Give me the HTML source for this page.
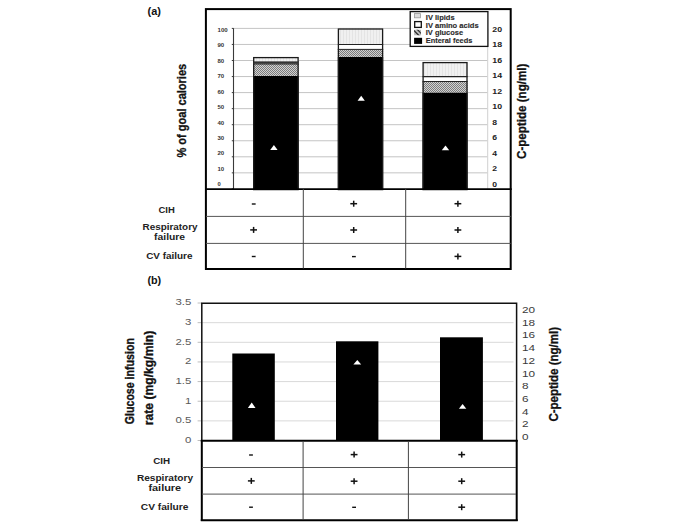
<!DOCTYPE html>
<html><head><meta charset="utf-8"><style>
html,body{margin:0;padding:0;background:#fff;}
body{width:685px;height:524px;overflow:hidden;}
svg{display:block;font-family:"Liberation Sans", sans-serif;}
</style></head><body>
<svg width="685" height="524" viewBox="0 0 685 524">
<defs>
<pattern id="chk" width="2" height="2" patternUnits="userSpaceOnUse"><rect width="2" height="2" fill="#d2d2d2"/><rect width="1" height="1" fill="#7c7c7c"/><rect x="1" y="1" width="1" height="1" fill="#7c7c7c"/></pattern>
<pattern id="lip" width="3" height="3" patternUnits="userSpaceOnUse"><rect width="3" height="3" fill="#f0f0f0"/><rect x="1" width="1" height="3" fill="#e4e4e4"/></pattern>
<clipPath id="swc"><rect x="414.1" y="29.8" width="6.9" height="5.5"/></clipPath>
<pattern id="diag" width="3" height="3" patternUnits="userSpaceOnUse" patternTransform="rotate(-45)"><rect width="3" height="3" fill="#fff"/><rect width="1.5" height="3" fill="#222"/></pattern>
</defs>
<rect width="685" height="524" fill="#fff"/>
<text x="147.60" y="15.20" font-size="10.6" font-weight="bold" fill="#111" text-anchor="start" textLength="13.40" lengthAdjust="spacingAndGlyphs">(a)</text>
<line x1="233.50" y1="172.85" x2="487.50" y2="172.85" stroke="#c4c4c4" stroke-width="1"/>
<line x1="233.50" y1="156.80" x2="487.50" y2="156.80" stroke="#c4c4c4" stroke-width="1"/>
<line x1="233.50" y1="140.75" x2="487.50" y2="140.75" stroke="#c4c4c4" stroke-width="1"/>
<line x1="233.50" y1="124.70" x2="487.50" y2="124.70" stroke="#c4c4c4" stroke-width="1"/>
<line x1="233.50" y1="108.65" x2="487.50" y2="108.65" stroke="#c4c4c4" stroke-width="1"/>
<line x1="233.50" y1="92.60" x2="487.50" y2="92.60" stroke="#c4c4c4" stroke-width="1"/>
<line x1="233.50" y1="76.55" x2="487.50" y2="76.55" stroke="#c4c4c4" stroke-width="1"/>
<line x1="233.50" y1="60.50" x2="487.50" y2="60.50" stroke="#c4c4c4" stroke-width="1"/>
<line x1="233.50" y1="44.45" x2="487.50" y2="44.45" stroke="#c4c4c4" stroke-width="1"/>
<line x1="233.50" y1="28.40" x2="487.50" y2="28.40" stroke="#c4c4c4" stroke-width="1"/>
<line x1="487.70" y1="28.40" x2="487.70" y2="189.00" stroke="#d0d0d0" stroke-width="1"/>
<line x1="233.50" y1="28.20" x2="233.50" y2="189.00" stroke="#3a3a3a" stroke-width="1.1"/>
<line x1="231.80" y1="188.90" x2="233.50" y2="188.90" stroke="#3a3a3a" stroke-width="1"/>
<line x1="231.80" y1="172.85" x2="233.50" y2="172.85" stroke="#3a3a3a" stroke-width="1"/>
<line x1="231.80" y1="156.80" x2="233.50" y2="156.80" stroke="#3a3a3a" stroke-width="1"/>
<line x1="231.80" y1="140.75" x2="233.50" y2="140.75" stroke="#3a3a3a" stroke-width="1"/>
<line x1="231.80" y1="124.70" x2="233.50" y2="124.70" stroke="#3a3a3a" stroke-width="1"/>
<line x1="231.80" y1="108.65" x2="233.50" y2="108.65" stroke="#3a3a3a" stroke-width="1"/>
<line x1="231.80" y1="92.60" x2="233.50" y2="92.60" stroke="#3a3a3a" stroke-width="1"/>
<line x1="231.80" y1="76.55" x2="233.50" y2="76.55" stroke="#3a3a3a" stroke-width="1"/>
<line x1="231.80" y1="60.50" x2="233.50" y2="60.50" stroke="#3a3a3a" stroke-width="1"/>
<line x1="231.80" y1="44.45" x2="233.50" y2="44.45" stroke="#3a3a3a" stroke-width="1"/>
<line x1="231.80" y1="28.40" x2="233.50" y2="28.40" stroke="#3a3a3a" stroke-width="1"/>
<rect x="253.10" y="75.90" width="45.60" height="113.10" fill="#000" stroke="none" stroke-width="1"/>
<rect x="253.10" y="64.00" width="45.60" height="11.90" fill="url(#chk)" stroke="none" stroke-width="1"/>
<rect x="253.10" y="62.00" width="45.60" height="2.00" fill="#fff" stroke="none" stroke-width="1"/>
<rect x="253.10" y="57.00" width="45.60" height="5.00" fill="url(#lip)" stroke="none" stroke-width="1"/>
<rect x="253.70" y="57.60" width="44.40" height="132.00" fill="none" stroke="#1a1a1a" stroke-width="1.3"/>
<line x1="253.10" y1="62.00" x2="298.70" y2="62.00" stroke="#222" stroke-width="1.2"/>
<line x1="253.10" y1="64.00" x2="298.70" y2="64.00" stroke="#222" stroke-width="1.0"/>
<rect x="253.60" y="61.80" width="44.60" height="2.00" fill="#333" stroke="none" stroke-width="1"/>
<rect x="337.80" y="56.80" width="45.40" height="132.20" fill="#000" stroke="none" stroke-width="1"/>
<rect x="337.80" y="49.40" width="45.40" height="7.40" fill="url(#chk)" stroke="none" stroke-width="1"/>
<rect x="337.80" y="44.50" width="45.40" height="4.90" fill="#fff" stroke="none" stroke-width="1"/>
<rect x="337.80" y="28.40" width="45.40" height="16.10" fill="url(#lip)" stroke="none" stroke-width="1"/>
<rect x="338.40" y="29.00" width="44.20" height="160.60" fill="none" stroke="#1a1a1a" stroke-width="1.3"/>
<line x1="337.80" y1="44.50" x2="383.20" y2="44.50" stroke="#222" stroke-width="1.2"/>
<line x1="337.80" y1="49.40" x2="383.20" y2="49.40" stroke="#222" stroke-width="1.0"/>
<rect x="422.50" y="92.50" width="45.10" height="96.50" fill="#000" stroke="none" stroke-width="1"/>
<rect x="422.50" y="81.50" width="45.10" height="11.00" fill="url(#chk)" stroke="none" stroke-width="1"/>
<rect x="422.50" y="76.70" width="45.10" height="4.80" fill="#fff" stroke="none" stroke-width="1"/>
<rect x="422.50" y="62.00" width="45.10" height="14.70" fill="url(#lip)" stroke="none" stroke-width="1"/>
<rect x="423.10" y="62.60" width="43.90" height="127.00" fill="none" stroke="#1a1a1a" stroke-width="1.3"/>
<line x1="422.50" y1="76.70" x2="467.60" y2="76.70" stroke="#222" stroke-width="1.2"/>
<line x1="422.50" y1="81.50" x2="467.60" y2="81.50" stroke="#222" stroke-width="1.0"/>
<polygon points="273.90,145.00 277.60,150.10 270.20,150.10" fill="#fff"/>
<polygon points="361.20,95.70 364.80,100.70 357.60,100.70" fill="#fff"/>
<polygon points="445.50,145.40 449.20,150.20 441.80,150.20" fill="#fff"/>
<text x="217.50" y="31.85" font-size="5.1" font-weight="bold" fill="#333" text-anchor="start" textLength="10.15" lengthAdjust="spacingAndGlyphs">100</text>
<text x="217.50" y="47.30" font-size="5.1" font-weight="bold" fill="#333" text-anchor="start" textLength="6.70" lengthAdjust="spacingAndGlyphs">90</text>
<text x="217.50" y="62.75" font-size="5.1" font-weight="bold" fill="#333" text-anchor="start" textLength="6.70" lengthAdjust="spacingAndGlyphs">80</text>
<text x="217.50" y="78.20" font-size="5.1" font-weight="bold" fill="#333" text-anchor="start" textLength="6.70" lengthAdjust="spacingAndGlyphs">70</text>
<text x="217.50" y="93.65" font-size="5.1" font-weight="bold" fill="#333" text-anchor="start" textLength="6.70" lengthAdjust="spacingAndGlyphs">60</text>
<text x="217.50" y="109.10" font-size="5.1" font-weight="bold" fill="#333" text-anchor="start" textLength="6.70" lengthAdjust="spacingAndGlyphs">50</text>
<text x="217.50" y="124.55" font-size="5.1" font-weight="bold" fill="#333" text-anchor="start" textLength="6.70" lengthAdjust="spacingAndGlyphs">40</text>
<text x="217.50" y="140.00" font-size="5.1" font-weight="bold" fill="#333" text-anchor="start" textLength="6.70" lengthAdjust="spacingAndGlyphs">30</text>
<text x="217.50" y="155.45" font-size="5.1" font-weight="bold" fill="#333" text-anchor="start" textLength="6.70" lengthAdjust="spacingAndGlyphs">20</text>
<text x="217.50" y="170.90" font-size="5.1" font-weight="bold" fill="#333" text-anchor="start" textLength="6.70" lengthAdjust="spacingAndGlyphs">10</text>
<text x="217.50" y="186.35" font-size="5.1" font-weight="bold" fill="#333" text-anchor="start" textLength="3.25" lengthAdjust="spacingAndGlyphs">0</text>
<text x="492.30" y="31.80" font-size="6.7" font-weight="bold" fill="#222" text-anchor="start" textLength="9.80" lengthAdjust="spacingAndGlyphs">20</text>
<text x="492.30" y="47.29" font-size="6.7" font-weight="bold" fill="#222" text-anchor="start" textLength="9.80" lengthAdjust="spacingAndGlyphs">18</text>
<text x="492.30" y="62.78" font-size="6.7" font-weight="bold" fill="#222" text-anchor="start" textLength="9.80" lengthAdjust="spacingAndGlyphs">16</text>
<text x="492.30" y="78.27" font-size="6.7" font-weight="bold" fill="#222" text-anchor="start" textLength="9.80" lengthAdjust="spacingAndGlyphs">14</text>
<text x="492.30" y="93.76" font-size="6.7" font-weight="bold" fill="#222" text-anchor="start" textLength="9.80" lengthAdjust="spacingAndGlyphs">12</text>
<text x="492.30" y="109.25" font-size="6.7" font-weight="bold" fill="#222" text-anchor="start" textLength="9.80" lengthAdjust="spacingAndGlyphs">10</text>
<text x="492.30" y="124.74" font-size="6.7" font-weight="bold" fill="#222" text-anchor="start" textLength="4.80" lengthAdjust="spacingAndGlyphs">8</text>
<text x="492.30" y="140.23" font-size="6.7" font-weight="bold" fill="#222" text-anchor="start" textLength="4.80" lengthAdjust="spacingAndGlyphs">6</text>
<text x="492.30" y="155.72" font-size="6.7" font-weight="bold" fill="#222" text-anchor="start" textLength="4.80" lengthAdjust="spacingAndGlyphs">4</text>
<text x="492.30" y="171.21" font-size="6.7" font-weight="bold" fill="#222" text-anchor="start" textLength="4.80" lengthAdjust="spacingAndGlyphs">2</text>
<text x="492.30" y="186.70" font-size="6.7" font-weight="bold" fill="#222" text-anchor="start" textLength="4.80" lengthAdjust="spacingAndGlyphs">0</text>
<text transform="translate(186.30 157.50) rotate(-90)" x="0" y="0" font-size="12.3" font-weight="bold" fill="#111" text-anchor="start" textLength="93.70" lengthAdjust="spacingAndGlyphs" stroke="#111" stroke-width="0.3">% of goal calories</text>
<text transform="translate(525.70 159.00) rotate(-90)" x="0" y="0" font-size="12.5" font-weight="bold" fill="#111" text-anchor="start" textLength="95.40" lengthAdjust="spacingAndGlyphs" stroke="#111" stroke-width="0.3">C-peptide (ng/ml)</text>
<rect x="410.20" y="11.60" width="77.70" height="34.80" fill="#fff" stroke="#111" stroke-width="1.3"/>
<rect x="414.40" y="13.60" width="6.00" height="4.20" fill="#ddd" stroke="#999" stroke-width="0.8"/>
<rect x="414.70" y="21.60" width="6.60" height="5.80" fill="#fff" stroke="#111" stroke-width="1.3"/>
<rect x="414.10" y="29.80" width="6.90" height="5.50" fill="#bbbbbb" stroke="none" stroke-width="1"/>
<g clip-path="url(#swc)"><line x1="412.6" y1="29.2" x2="419.6" y2="36.2" stroke="#222" stroke-width="1.1"/><line x1="416.4" y1="28.6" x2="423.4" y2="35.6" stroke="#222" stroke-width="1.1"/></g>
<rect x="414.10" y="37.80" width="8.00" height="6.10" fill="#000" stroke="none" stroke-width="1"/>
<text x="425.80" y="19.90" font-size="6.4" font-weight="bold" fill="#2a2a2a" text-anchor="start" textLength="28.80" lengthAdjust="spacingAndGlyphs" stroke="#2a2a2a" stroke-width="0.12">IV lipids</text>
<text x="425.80" y="27.52" font-size="6.4" font-weight="bold" fill="#2a2a2a" text-anchor="start" textLength="52.80" lengthAdjust="spacingAndGlyphs" stroke="#2a2a2a" stroke-width="0.12">IV amino acids</text>
<text x="425.80" y="35.14" font-size="6.4" font-weight="bold" fill="#2a2a2a" text-anchor="start" textLength="37.30" lengthAdjust="spacingAndGlyphs" stroke="#2a2a2a" stroke-width="0.12">IV glucose</text>
<text x="425.80" y="42.76" font-size="6.4" font-weight="bold" fill="#2a2a2a" text-anchor="start" textLength="46.50" lengthAdjust="spacingAndGlyphs" stroke="#2a2a2a" stroke-width="0.12">Enteral feeds</text>
<rect x="205.9" y="9.1" width="304.8" height="259.9" fill="none" stroke="#000" stroke-width="2"/>
<line x1="205.20" y1="189.20" x2="511.70" y2="189.20" stroke="#000" stroke-width="1.8"/>
<line x1="206.00" y1="216.40" x2="510.70" y2="216.40" stroke="#555" stroke-width="1"/>
<line x1="206.00" y1="243.40" x2="510.70" y2="243.40" stroke="#555" stroke-width="1"/>
<line x1="303.30" y1="189.00" x2="303.30" y2="268.50" stroke="#444" stroke-width="1"/>
<line x1="405.70" y1="189.00" x2="405.70" y2="268.50" stroke="#444" stroke-width="1"/>
<text x="166.60" y="212.80" font-size="8.6" font-weight="bold" fill="#222" text-anchor="middle" textLength="16.30" lengthAdjust="spacingAndGlyphs">CIH</text>
<text x="170.00" y="230.40" font-size="8.6" font-weight="bold" fill="#222" text-anchor="middle" textLength="55.00" lengthAdjust="spacingAndGlyphs">Respiratory</text>
<text x="169.60" y="240.40" font-size="8.6" font-weight="bold" fill="#222" text-anchor="middle" textLength="31.00" lengthAdjust="spacingAndGlyphs">failure</text>
<text x="169.30" y="259.40" font-size="8.6" font-weight="bold" fill="#222" text-anchor="middle" textLength="46.30" lengthAdjust="spacingAndGlyphs">CV failure</text>
<line x1="251.80" y1="204.00" x2="255.60" y2="204.00" stroke="#111" stroke-width="1.4"/>
<line x1="350.30" y1="203.70" x2="357.10" y2="203.70" stroke="#111" stroke-width="1.5"/>
<line x1="353.70" y1="200.70" x2="353.70" y2="206.70" stroke="#111" stroke-width="1.5"/>
<line x1="454.50" y1="203.70" x2="461.30" y2="203.70" stroke="#111" stroke-width="1.5"/>
<line x1="457.90" y1="200.70" x2="457.90" y2="206.70" stroke="#111" stroke-width="1.5"/>
<line x1="250.20" y1="229.90" x2="257.00" y2="229.90" stroke="#111" stroke-width="1.5"/>
<line x1="253.60" y1="226.90" x2="253.60" y2="232.90" stroke="#111" stroke-width="1.5"/>
<line x1="350.30" y1="230.00" x2="357.10" y2="230.00" stroke="#111" stroke-width="1.5"/>
<line x1="353.70" y1="227.00" x2="353.70" y2="233.00" stroke="#111" stroke-width="1.5"/>
<line x1="454.50" y1="230.00" x2="461.30" y2="230.00" stroke="#111" stroke-width="1.5"/>
<line x1="457.90" y1="227.00" x2="457.90" y2="233.00" stroke="#111" stroke-width="1.5"/>
<line x1="251.80" y1="256.50" x2="255.60" y2="256.50" stroke="#111" stroke-width="1.4"/>
<line x1="352.00" y1="256.60" x2="355.80" y2="256.60" stroke="#111" stroke-width="1.4"/>
<line x1="454.50" y1="256.40" x2="461.30" y2="256.40" stroke="#111" stroke-width="1.5"/>
<line x1="457.90" y1="253.40" x2="457.90" y2="259.40" stroke="#111" stroke-width="1.5"/>
<text x="147.40" y="284.00" font-size="10.6" font-weight="bold" fill="#111" text-anchor="start" textLength="13.80" lengthAdjust="spacingAndGlyphs">(b)</text>
<line x1="202.00" y1="420.86" x2="513.50" y2="420.86" stroke="#d9d9d9" stroke-width="1"/>
<line x1="202.00" y1="401.22" x2="513.50" y2="401.22" stroke="#d9d9d9" stroke-width="1"/>
<line x1="202.00" y1="381.58" x2="513.50" y2="381.58" stroke="#d9d9d9" stroke-width="1"/>
<line x1="202.00" y1="361.94" x2="513.50" y2="361.94" stroke="#d9d9d9" stroke-width="1"/>
<line x1="202.00" y1="342.30" x2="513.50" y2="342.30" stroke="#d9d9d9" stroke-width="1"/>
<line x1="202.00" y1="322.66" x2="513.50" y2="322.66" stroke="#d9d9d9" stroke-width="1"/>
<line x1="197.60" y1="440.50" x2="201.80" y2="440.50" stroke="#bdbdbd" stroke-width="1"/>
<line x1="197.60" y1="420.86" x2="201.80" y2="420.86" stroke="#bdbdbd" stroke-width="1"/>
<line x1="197.60" y1="401.22" x2="201.80" y2="401.22" stroke="#bdbdbd" stroke-width="1"/>
<line x1="197.60" y1="381.58" x2="201.80" y2="381.58" stroke="#bdbdbd" stroke-width="1"/>
<line x1="197.60" y1="361.94" x2="201.80" y2="361.94" stroke="#bdbdbd" stroke-width="1"/>
<line x1="197.60" y1="342.30" x2="201.80" y2="342.30" stroke="#bdbdbd" stroke-width="1"/>
<line x1="197.60" y1="322.66" x2="201.80" y2="322.66" stroke="#bdbdbd" stroke-width="1"/>
<line x1="197.60" y1="303.02" x2="201.80" y2="303.02" stroke="#bdbdbd" stroke-width="1"/>
<rect x="232.30" y="353.50" width="42.50" height="87.00" fill="#000" stroke="none" stroke-width="1"/>
<rect x="336.00" y="341.30" width="42.40" height="99.20" fill="#000" stroke="none" stroke-width="1"/>
<rect x="440.00" y="337.30" width="42.90" height="103.20" fill="#000" stroke="none" stroke-width="1"/>
<polygon points="251.70,402.60 255.50,407.90 247.90,407.90" fill="#fff"/>
<polygon points="357.30,359.90 361.20,364.60 353.40,364.60" fill="#fff"/>
<polygon points="462.60,403.90 466.30,408.80 458.90,408.80" fill="#fff"/>
<path d="M201.8 440.5 V303.2 H516.6 V440.5" fill="none" stroke="#111" stroke-width="1.5"/>
<line x1="200.80" y1="440.70" x2="517.60" y2="440.70" stroke="#000" stroke-width="2"/>
<text x="191.30" y="305.35" font-size="9.0" font-weight="normal" fill="#595959" text-anchor="end" textLength="15.88" lengthAdjust="spacingAndGlyphs">3.5</text>
<text x="191.30" y="325.01" font-size="9.0" font-weight="normal" fill="#595959" text-anchor="end" textLength="6.35" lengthAdjust="spacingAndGlyphs">3</text>
<text x="191.30" y="344.67" font-size="9.0" font-weight="normal" fill="#595959" text-anchor="end" textLength="15.88" lengthAdjust="spacingAndGlyphs">2.5</text>
<text x="191.30" y="364.33" font-size="9.0" font-weight="normal" fill="#595959" text-anchor="end" textLength="6.35" lengthAdjust="spacingAndGlyphs">2</text>
<text x="191.30" y="383.99" font-size="9.0" font-weight="normal" fill="#595959" text-anchor="end" textLength="15.88" lengthAdjust="spacingAndGlyphs">1.5</text>
<text x="191.30" y="403.65" font-size="9.0" font-weight="normal" fill="#595959" text-anchor="end" textLength="6.35" lengthAdjust="spacingAndGlyphs">1</text>
<text x="191.30" y="423.31" font-size="9.0" font-weight="normal" fill="#595959" text-anchor="end" textLength="15.88" lengthAdjust="spacingAndGlyphs">0.5</text>
<text x="191.30" y="442.97" font-size="9.0" font-weight="normal" fill="#595959" text-anchor="end" textLength="6.35" lengthAdjust="spacingAndGlyphs">0</text>
<text x="522.00" y="312.90" font-size="9.5" font-weight="normal" fill="#3a3a3a" text-anchor="start" textLength="13.10" lengthAdjust="spacingAndGlyphs">20</text>
<text x="522.00" y="325.63" font-size="9.5" font-weight="normal" fill="#3a3a3a" text-anchor="start" textLength="13.10" lengthAdjust="spacingAndGlyphs">18</text>
<text x="522.00" y="338.36" font-size="9.5" font-weight="normal" fill="#3a3a3a" text-anchor="start" textLength="13.10" lengthAdjust="spacingAndGlyphs">16</text>
<text x="522.00" y="351.09" font-size="9.5" font-weight="normal" fill="#3a3a3a" text-anchor="start" textLength="13.10" lengthAdjust="spacingAndGlyphs">14</text>
<text x="522.00" y="363.82" font-size="9.5" font-weight="normal" fill="#3a3a3a" text-anchor="start" textLength="13.10" lengthAdjust="spacingAndGlyphs">12</text>
<text x="522.00" y="376.55" font-size="9.5" font-weight="normal" fill="#3a3a3a" text-anchor="start" textLength="13.10" lengthAdjust="spacingAndGlyphs">10</text>
<text x="522.00" y="389.28" font-size="9.5" font-weight="normal" fill="#3a3a3a" text-anchor="start" textLength="6.55" lengthAdjust="spacingAndGlyphs">8</text>
<text x="522.00" y="402.01" font-size="9.5" font-weight="normal" fill="#3a3a3a" text-anchor="start" textLength="6.55" lengthAdjust="spacingAndGlyphs">6</text>
<text x="522.00" y="414.74" font-size="9.5" font-weight="normal" fill="#3a3a3a" text-anchor="start" textLength="6.55" lengthAdjust="spacingAndGlyphs">4</text>
<text x="522.00" y="427.47" font-size="9.5" font-weight="normal" fill="#3a3a3a" text-anchor="start" textLength="6.55" lengthAdjust="spacingAndGlyphs">2</text>
<text x="522.00" y="440.20" font-size="9.5" font-weight="normal" fill="#3a3a3a" text-anchor="start" textLength="6.55" lengthAdjust="spacingAndGlyphs">0</text>
<text transform="translate(134.30 424.20) rotate(-90)" x="0" y="0" font-size="13.0" font-weight="bold" fill="#111" text-anchor="start" textLength="86.10" lengthAdjust="spacingAndGlyphs" stroke="#111" stroke-width="0.35">Glucose infusion</text>
<text transform="translate(153.10 425.20) rotate(-90)" x="0" y="0" font-size="13.0" font-weight="bold" fill="#111" text-anchor="start" textLength="94.50" lengthAdjust="spacingAndGlyphs" stroke="#111" stroke-width="0.35">rate (mg/kg/min)</text>
<text transform="translate(558.00 421.60) rotate(-90)" x="0" y="0" font-size="13.4" font-weight="bold" fill="#111" text-anchor="start" textLength="94.60" lengthAdjust="spacingAndGlyphs" stroke="#111" stroke-width="0.3">C-peptide (ng/ml)</text>
<line x1="201.80" y1="440.00" x2="201.80" y2="521.00" stroke="#000" stroke-width="2"/>
<line x1="516.70" y1="440.00" x2="516.70" y2="521.00" stroke="#000" stroke-width="2"/>
<line x1="200.80" y1="520.20" x2="517.70" y2="520.20" stroke="#000" stroke-width="2"/>
<line x1="202.00" y1="467.50" x2="516.00" y2="467.50" stroke="#555" stroke-width="1"/>
<line x1="202.00" y1="494.10" x2="516.00" y2="494.10" stroke="#555" stroke-width="1"/>
<line x1="303.10" y1="441.00" x2="303.10" y2="519.00" stroke="#444" stroke-width="1"/>
<line x1="408.40" y1="441.00" x2="408.40" y2="519.00" stroke="#444" stroke-width="1"/>
<text x="161.60" y="463.80" font-size="8.7" font-weight="bold" fill="#222" text-anchor="middle" textLength="16.90" lengthAdjust="spacingAndGlyphs">CIH</text>
<text x="165.00" y="480.50" font-size="8.7" font-weight="bold" fill="#222" text-anchor="middle" textLength="56.20" lengthAdjust="spacingAndGlyphs">Respiratory</text>
<text x="164.80" y="491.10" font-size="8.7" font-weight="bold" fill="#222" text-anchor="middle" textLength="32.70" lengthAdjust="spacingAndGlyphs">failure</text>
<text x="164.60" y="509.80" font-size="8.7" font-weight="bold" fill="#222" text-anchor="middle" textLength="47.70" lengthAdjust="spacingAndGlyphs">CV failure</text>
<line x1="249.10" y1="455.00" x2="252.90" y2="455.00" stroke="#111" stroke-width="1.4"/>
<line x1="350.70" y1="454.60" x2="357.50" y2="454.60" stroke="#111" stroke-width="1.5"/>
<line x1="354.10" y1="451.60" x2="354.10" y2="457.60" stroke="#111" stroke-width="1.5"/>
<line x1="458.30" y1="454.60" x2="465.10" y2="454.60" stroke="#111" stroke-width="1.5"/>
<line x1="461.70" y1="451.60" x2="461.70" y2="457.60" stroke="#111" stroke-width="1.5"/>
<line x1="247.90" y1="480.90" x2="254.70" y2="480.90" stroke="#111" stroke-width="1.5"/>
<line x1="251.30" y1="477.90" x2="251.30" y2="483.90" stroke="#111" stroke-width="1.5"/>
<line x1="350.70" y1="481.20" x2="357.50" y2="481.20" stroke="#111" stroke-width="1.5"/>
<line x1="354.10" y1="478.20" x2="354.10" y2="484.20" stroke="#111" stroke-width="1.5"/>
<line x1="458.30" y1="481.20" x2="465.10" y2="481.20" stroke="#111" stroke-width="1.5"/>
<line x1="461.70" y1="478.20" x2="461.70" y2="484.20" stroke="#111" stroke-width="1.5"/>
<line x1="249.10" y1="507.20" x2="252.90" y2="507.20" stroke="#111" stroke-width="1.4"/>
<line x1="352.20" y1="507.30" x2="356.00" y2="507.30" stroke="#111" stroke-width="1.4"/>
<line x1="458.30" y1="507.20" x2="465.10" y2="507.20" stroke="#111" stroke-width="1.5"/>
<line x1="461.70" y1="504.20" x2="461.70" y2="510.20" stroke="#111" stroke-width="1.5"/>
</svg>
</body></html>
